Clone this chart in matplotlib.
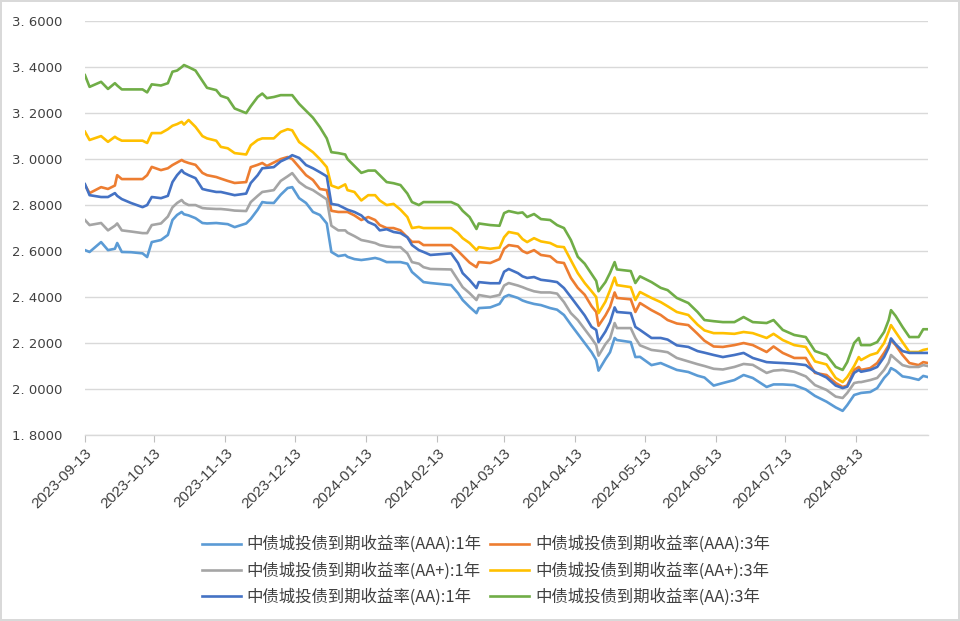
import matplotlib
matplotlib.use("Agg")
import matplotlib.pyplot as plt
import matplotlib.dates as mdates
import pandas as pd

plt.rcParams['font.family'] = ['Noto Sans CJK SC', 'DejaVu Sans']

# dates
dates = [
    '2023-09-13', '2023-09-15', '2023-09-20', '2023-09-23', '2023-09-26', '2023-09-27', '2023-09-29',
    '2023-10-03', '2023-10-08', '2023-10-10', '2023-10-12', '2023-10-16', '2023-10-19', '2023-10-21',
    '2023-10-23', '2023-10-25', '2023-10-26', '2023-10-28', '2023-10-31', '2023-11-03', '2023-11-05',
    '2023-11-09', '2023-11-11', '2023-11-14', '2023-11-17', '2023-11-22', '2023-11-24', '2023-11-27',
    '2023-11-29', '2023-12-01', '2023-12-04', '2023-12-07', '2023-12-10', '2023-12-12', '2023-12-15',
    '2023-12-18', '2023-12-21', '2023-12-24', '2023-12-27', '2023-12-29', '2024-01-01', '2024-01-04',
    '2024-01-05', '2024-01-08', '2024-01-11', '2024-01-14', '2024-01-17', '2024-01-19', '2024-01-22',
    '2024-01-25', '2024-01-28', '2024-01-31', '2024-02-02', '2024-02-05', '2024-02-07', '2024-02-10',
    '2024-02-19', '2024-02-22', '2024-02-24', '2024-02-27', '2024-03-01', '2024-03-02', '2024-03-07',
    '2024-03-11', '2024-03-13', '2024-03-15', '2024-03-19', '2024-03-21', '2024-03-23', '2024-03-26',
    '2024-03-29', '2024-04-02', '2024-04-05', '2024-04-08', '2024-04-11', '2024-04-14', '2024-04-17',
    '2024-04-20', '2024-04-22', '2024-04-23', '2024-04-26', '2024-04-28', '2024-04-30', '2024-05-01',
    '2024-05-07', '2024-05-09', '2024-05-11', '2024-05-16', '2024-05-20', '2024-05-23', '2024-05-27',
    '2024-06-01', '2024-06-05', '2024-06-08', '2024-06-12', '2024-06-16', '2024-06-21', '2024-06-25',
    '2024-06-29', '2024-07-05', '2024-07-08', '2024-07-12', '2024-07-17', '2024-07-22', '2024-07-26',
    '2024-07-31', '2024-08-04', '2024-08-07', '2024-08-09', '2024-08-12', '2024-08-14', '2024-08-15',
    '2024-08-19', '2024-08-22', '2024-08-25', '2024-08-27', '2024-08-28', '2024-08-30', '2024-09-02',
    '2024-09-05', '2024-09-09', '2024-09-11', '2024-09-13',
]

aaa_1y = [
    2.604, 2.596, 2.639, 2.604, 2.610, 2.635, 2.596,
    2.595, 2.590, 2.574, 2.639, 2.648, 2.670, 2.735,
    2.757, 2.770, 2.760, 2.755, 2.743, 2.722, 2.720,
    2.722, 2.720, 2.717, 2.704, 2.720, 2.740, 2.780,
    2.813, 2.810, 2.809, 2.845, 2.874, 2.878, 2.830,
    2.809, 2.770, 2.757, 2.720, 2.596, 2.578, 2.583,
    2.575, 2.565, 2.561, 2.565, 2.570, 2.565, 2.552,
    2.552, 2.552, 2.545, 2.509, 2.483, 2.465, 2.461,
    2.452, 2.417, 2.387, 2.357, 2.330, 2.352, 2.355,
    2.370, 2.400, 2.409, 2.396, 2.385, 2.378, 2.370,
    2.365, 2.352, 2.345, 2.322, 2.280, 2.240, 2.200,
    2.160, 2.126, 2.080, 2.130, 2.160, 2.222, 2.213,
    2.204, 2.139, 2.140, 2.104, 2.113, 2.100, 2.083,
    2.074, 2.058, 2.050, 2.015, 2.026, 2.039, 2.061,
    2.048, 2.009, 2.020, 2.020, 2.017, 1.998, 1.970,
    1.945, 1.920, 1.905, 1.930, 1.974, 1.980, 1.983,
    1.987, 2.004, 2.048, 2.070, 2.091, 2.080, 2.055,
    2.050, 2.040, 2.057, 2.052,
]

aaa_3y = [
    2.887, 2.852, 2.878, 2.870, 2.885, 2.930, 2.913,
    2.913, 2.913, 2.930, 2.966, 2.952, 2.960, 2.974,
    2.985, 2.996, 2.990, 2.983, 2.975, 2.940, 2.930,
    2.922, 2.915, 2.905, 2.896, 2.900, 2.965, 2.975,
    2.983, 2.970, 2.985, 3.000, 3.009, 3.000, 2.965,
    2.930, 2.909, 2.870, 2.865, 2.775, 2.770, 2.770,
    2.770, 2.755, 2.735, 2.748, 2.735, 2.713, 2.700,
    2.700, 2.690, 2.660, 2.640, 2.640, 2.626, 2.626,
    2.626, 2.600, 2.580, 2.550, 2.530, 2.552, 2.548,
    2.565, 2.610, 2.626, 2.620, 2.600, 2.591, 2.604,
    2.583, 2.577, 2.552, 2.548, 2.483, 2.440, 2.410,
    2.360, 2.335, 2.275, 2.320, 2.357, 2.420, 2.396,
    2.390, 2.335, 2.374, 2.343, 2.322, 2.300, 2.285,
    2.278, 2.240, 2.210, 2.185, 2.183, 2.191, 2.200,
    2.191, 2.161, 2.185, 2.157, 2.135, 2.135, 2.070,
    2.061, 2.026, 2.009, 2.015, 2.083, 2.096, 2.083,
    2.091, 2.113, 2.157, 2.190, 2.213, 2.191, 2.148,
    2.113, 2.104, 2.117, 2.113,
]

aap_1y = [
    2.735, 2.713, 2.722, 2.690, 2.710, 2.720, 2.690,
    2.685, 2.678, 2.678, 2.713, 2.720, 2.750, 2.790,
    2.809, 2.822, 2.810, 2.800, 2.800, 2.787, 2.785,
    2.783, 2.783, 2.780, 2.776, 2.774, 2.813, 2.840,
    2.857, 2.860, 2.865, 2.905, 2.925, 2.939, 2.900,
    2.878, 2.865, 2.845, 2.825, 2.710, 2.690, 2.690,
    2.680, 2.665, 2.648, 2.642, 2.635, 2.626, 2.620,
    2.617, 2.617, 2.590, 2.552, 2.545, 2.530, 2.522,
    2.520, 2.474, 2.443, 2.417, 2.387, 2.409, 2.400,
    2.409, 2.450, 2.461, 2.450, 2.443, 2.435, 2.425,
    2.420, 2.420, 2.415, 2.378, 2.330, 2.300, 2.260,
    2.220, 2.191, 2.145, 2.195, 2.220, 2.287, 2.265,
    2.265, 2.222, 2.190, 2.170, 2.165, 2.160, 2.135,
    2.120, 2.108, 2.100, 2.088, 2.085, 2.096, 2.109,
    2.105, 2.070, 2.080, 2.083, 2.075, 2.055, 2.017,
    1.996, 1.967, 1.961, 1.983, 2.026, 2.030, 2.030,
    2.039, 2.048, 2.083, 2.115, 2.148, 2.130, 2.104,
    2.096, 2.096, 2.104, 2.100,
]

aap_3y = [
    3.119, 3.083, 3.100, 3.075, 3.097, 3.090, 3.080,
    3.080, 3.080, 3.070, 3.113, 3.113, 3.130, 3.145,
    3.152, 3.162, 3.150, 3.170, 3.140, 3.100, 3.090,
    3.080, 3.053, 3.047, 3.026, 3.020, 3.060, 3.083,
    3.090, 3.090, 3.090, 3.118, 3.130, 3.125, 3.074,
    3.052, 3.030, 3.000, 2.965, 2.885, 2.874, 2.890,
    2.865, 2.857, 2.820, 2.843, 2.843, 2.820, 2.800,
    2.805, 2.780, 2.748, 2.700, 2.705, 2.700, 2.700,
    2.700, 2.678, 2.656, 2.635, 2.604, 2.617, 2.610,
    2.615, 2.660, 2.683, 2.675, 2.652, 2.639, 2.656,
    2.642, 2.635, 2.620, 2.617, 2.560, 2.504, 2.461,
    2.425, 2.400, 2.330, 2.380, 2.430, 2.485, 2.452,
    2.443, 2.387, 2.422, 2.396, 2.378, 2.360, 2.335,
    2.322, 2.280, 2.255, 2.243, 2.243, 2.240, 2.248,
    2.243, 2.222, 2.240, 2.213, 2.191, 2.183, 2.120,
    2.107, 2.048, 2.030, 2.052, 2.100, 2.139, 2.126,
    2.148, 2.157, 2.200, 2.250, 2.278, 2.248, 2.204,
    2.161, 2.161, 2.170, 2.174,
]

aa_1y = [
    2.891, 2.843, 2.835, 2.835, 2.852, 2.840, 2.826,
    2.809, 2.791, 2.800, 2.835, 2.830, 2.840, 2.900,
    2.930, 2.952, 2.940, 2.930, 2.917, 2.870, 2.865,
    2.857, 2.857, 2.850, 2.843, 2.850, 2.896, 2.930,
    2.960, 2.962, 2.965, 2.990, 3.004, 3.017, 3.005,
    2.974, 2.960, 2.943, 2.925, 2.805, 2.800, 2.785,
    2.780, 2.770, 2.755, 2.726, 2.713, 2.690, 2.695,
    2.683, 2.678, 2.660, 2.626, 2.604, 2.596, 2.583,
    2.590, 2.548, 2.504, 2.474, 2.439, 2.465, 2.460,
    2.460, 2.510, 2.522, 2.504, 2.490, 2.483, 2.487,
    2.475, 2.470, 2.465, 2.439, 2.400, 2.360, 2.320,
    2.270, 2.257, 2.204, 2.250, 2.290, 2.355, 2.335,
    2.330, 2.270, 2.257, 2.222, 2.222, 2.215, 2.190,
    2.183, 2.165, 2.158, 2.148, 2.139, 2.148, 2.157,
    2.135, 2.117, 2.115, 2.113, 2.110, 2.104, 2.074,
    2.050, 2.015, 2.004, 2.010, 2.070, 2.083, 2.075,
    2.083, 2.096, 2.139, 2.180, 2.220, 2.195, 2.165,
    2.157, 2.157, 2.157, 2.157,
]

aa_3y = [
    3.365, 3.314, 3.336, 3.305, 3.330, 3.320, 3.303,
    3.303, 3.303, 3.290, 3.325, 3.320, 3.330, 3.380,
    3.385, 3.400, 3.409, 3.400, 3.385, 3.340, 3.310,
    3.300, 3.275, 3.265, 3.220, 3.200, 3.230, 3.270,
    3.285, 3.265, 3.270, 3.278, 3.278, 3.278, 3.240,
    3.210, 3.180, 3.139, 3.090, 3.030, 3.026, 3.020,
    3.000, 2.970, 2.940, 2.950, 2.950, 2.930, 2.900,
    2.895, 2.887, 2.850, 2.813, 2.800, 2.813, 2.813,
    2.813, 2.800, 2.775, 2.748, 2.696, 2.720, 2.713,
    2.710, 2.765, 2.774, 2.765, 2.768, 2.748, 2.761,
    2.739, 2.735, 2.713, 2.700, 2.648, 2.575, 2.545,
    2.500, 2.470, 2.425, 2.465, 2.505, 2.552, 2.520,
    2.513, 2.461, 2.490, 2.465, 2.440, 2.430, 2.396,
    2.374, 2.335, 2.300, 2.295, 2.291, 2.291, 2.313,
    2.291, 2.287, 2.300, 2.257, 2.235, 2.226, 2.165,
    2.148, 2.096, 2.083, 2.117, 2.200, 2.222, 2.191,
    2.191, 2.204, 2.248, 2.300, 2.343, 2.318, 2.270,
    2.226, 2.226, 2.260, 2.260,
]

labels = [
    '中债城投债到期收益率(AAA):1年',
    '中债城投债到期收益率(AAA):3年',
    '中债城投债到期收益率(AA+):1年',
    '中债城投债到期收益率(AA+):3年',
    '中债城投债到期收益率(AA):1年',
    '中债城投债到期收益率(AA):3年',
]
colors = ['#5B9BD5', '#ED7D31', '#A5A5A5', '#FFC000', '#4472C4', '#70AD47']
series = [aaa_1y, aaa_3y, aap_1y, aap_3y, aa_1y, aa_3y]

x = pd.to_datetime(dates)

fig = plt.figure(figsize=(9.6, 6.21), dpi=100, edgecolor='#d9d9d9', linewidth=1.5)
ax = fig.add_axes([0.0885, 0.2995, 0.878, 0.6665])

lines = []
for vals, lab, col in zip(series, labels, colors):
    ln, = ax.plot(x, vals, color=col, lw=1.9, label=lab, solid_joinstyle='round')
    lines.append(ln)

ax.set_ylim(1.8, 3.6)
yt = [1.8 + 0.2 * i for i in range(10)]
ax.set_yticks(yt)
ax.set_yticklabels([f'{v:.4f}'.replace('.', '. ') for v in yt],
                   fontsize=9.5, color='#404040', family='DejaVu Sans')
ax.tick_params(axis='y', length=0, pad=16)
ax.grid(axis='y', color='#d9d9d9', lw=1)
ax.set_axisbelow(True)

ax.set_xlim(pd.Timestamp('2023-09-13'), pd.Timestamp('2024-09-13'))
xt = pd.date_range('2023-09-13', '2024-08-13', freq=pd.DateOffset(months=1))
ax.set_xticks(xt)
ax.xaxis.set_major_formatter(mdates.DateFormatter('%Y-%m-%d'))
ax.tick_params(axis='x', length=5, color='#bfbfbf', direction='out', pad=3)
for t in ax.get_xticklabels():
    t.set_rotation(45)
    t.set_ha('right')
    t.set_rotation_mode('anchor')
    t.set_fontsize(11)
    t.set_color('#404040')
    t.set_family('Liberation Sans')

for s in ['top', 'right', 'left']:
    ax.spines[s].set_visible(False)
ax.spines['bottom'].set_color('#d9d9d9')
ax.spines['bottom'].set_linewidth(1)

order = [0, 2, 4, 1, 3, 5]
fig.legend([lines[i] for i in order], [labels[i] for i in order],
           loc='center', bbox_to_anchor=(0.506, 0.0805), ncol=2, frameon=False,
           prop={'size': 11.8}, handlelength=2.4, columnspacing=0.5, labelspacing=0.55,
           handletextpad=0.35, labelcolor='#404040')

fig.savefig('out.png', dpi=100)
